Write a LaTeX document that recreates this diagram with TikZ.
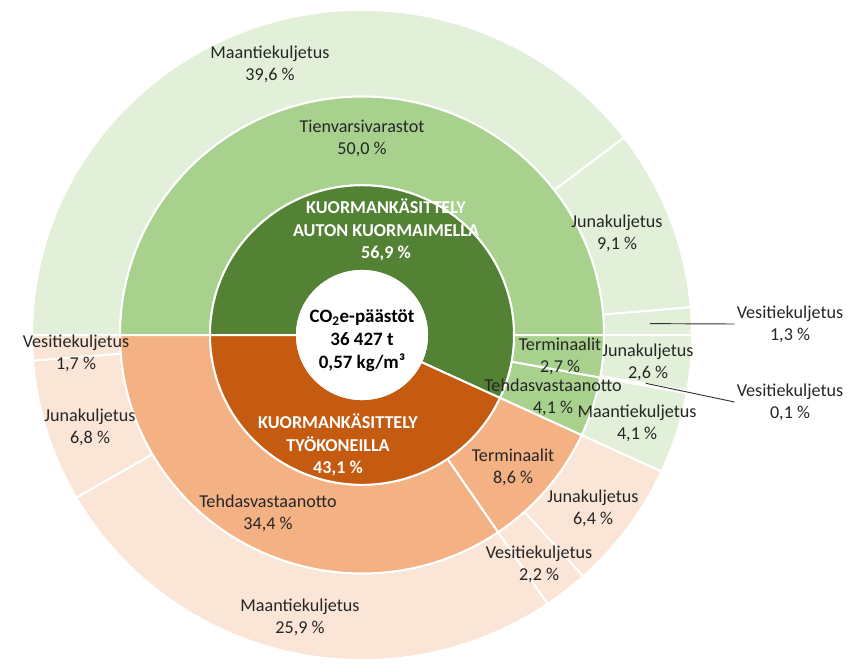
\documentclass[tikz,border=0pt]{standalone}
\usepackage{fontspec}
\setmainfont{Carlito}
\definecolor{dgreen}{HTML}{548235}
\definecolor{mgreen}{HTML}{A9D18E}
\definecolor{lgreen}{HTML}{E2F0D9}
\definecolor{dorange}{HTML}{C55A11}
\definecolor{morange}{HTML}{F4B183}
\definecolor{lorange}{HTML}{FBE5D6}
\newcommand{\ringseg}[5]{\filldraw[seg,fill=#5] (#1:#3) arc[start angle=#1,end angle=#2,radius=#3] -- (#2:#4) arc[start angle=#2,end angle=#1,radius=#4] -- cycle;}
\tikzset{
  seg/.style={draw=white,line width=1.5pt,line join=round},
  lbl/.style={align=center,inner sep=1.5pt,font=\fontsize{13.6}{16.6}\selectfont,text=black!85},
  inlbl/.style={align=center,inner sep=1.5pt,font=\fontsize{13.6}{16.8}\selectfont\bfseries,text=white},
  ctrlbl/.style={align=center,inner sep=1.5pt,font=\fontsize{14.2}{17.2}\selectfont\bfseries,text=black},
  leader/.style={draw=black!80,line width=0.7pt}
}
\begin{document}
\begin{tikzpicture}[x=0.75pt,y=-0.75pt]
\useasboundingbox (0,0) rectangle (856,664);
\begin{scope}[shift={(362,335)},x=0.75pt,y=0.739pt]
  % outer ring
  \ringseg{37.4}{180}{242}{330}{lgreen}
  \ringseg{4.9}{37.4}{242}{330}{lgreen}
  \ringseg{0}{4.9}{242}{330}{lgreen}
  \ringseg{-9.9}{0}{242}{330}{lgreen}
  \ringseg{-10.3}{-9.9}{242}{330}{lgreen}
  \ringseg{-24.84}{-10.3}{242}{330}{lgreen}
  \ringseg{-47.9}{-24.84}{242}{330}{lorange}
  \ringseg{-55.8}{-47.9}{242}{330}{lorange}
  \ringseg{-150}{-55.8}{242}{330}{lorange}
  \ringseg{-175.5}{-150}{242}{330}{lorange}
  \ringseg{-180}{-175.5}{242}{330}{lorange}
  % middle ring
  \ringseg{0}{180}{152}{242}{mgreen}
  \ringseg{-10.3}{0}{152}{242}{mgreen}
  \ringseg{-24.84}{-10.3}{152}{242}{mgreen}
  \ringseg{-55.8}{-24.84}{152}{242}{morange}
  \ringseg{-180}{-55.8}{152}{242}{morange}
  % inner ring
  \ringseg{-24.84}{180}{65}{152}{dgreen}
  \ringseg{-180}{-24.84}{65}{152}{dorange}
  % centre
  \filldraw[seg,fill=white] (0,0) circle[radius=65];
  \coordinate (p13) at (2.3:288);
  \coordinate (p01) at (-9.8:288);
\end{scope}
% centre and inner labels
\node[ctrlbl] (ctr) at (362,341) {CO\textsubscript{2}e-päästöt\\36 427 t\\0,57 kg/m³};
\node[inlbl] (ing) at (386,230) {KUORMANKÄSITTELY\\AUTON KUORMAIMELLA\\56,9 \%};
\node[inlbl] (ino) at (338,445) {KUORMANKÄSITTELY\\TYÖKONEILLA\\43,1 \%};
% middle ring labels
\node[lbl] (mtien) at (362,138) {Tienvarsivarastot\\50,0 \%};
\node[lbl] (mterg) at (560,356) {Terminaalit\\2,7 \%};
\node[lbl] (mtehg) at (553,397) {Tehdasvastaanotto\\4,1 \%};
\node[lbl] (mtero) at (513,467) {Terminaalit\\8,6 \%};
\node[lbl] (mteho) at (268,513) {Tehdasvastaanotto\\34,4 \%};
% outer ring labels
\node[lbl] (omaa1) at (270,64.5) {Maantiekuljetus\\39,6 \%};
\node[lbl] (ojun1) at (617,233) {Junakuljetus\\9,1 \%};
\node[lbl] (ojun2) at (648,362) {Junakuljetus\\2,6 \%};
\node[lbl] (omaa2) at (637,423.5) {Maantiekuljetus\\4,1 \%};
\node[lbl] (ojun3) at (593,508) {Junakuljetus\\6,4 \%};
\node[lbl] (oves3) at (539,564) {Vesitiekuljetus\\2,2 \%};
\node[lbl] (omaa3) at (300,617) {Maantiekuljetus\\25,9 \%};
\node[lbl] (ojun4) at (90,427.5) {Junakuljetus\\6,8 \%};
\node[lbl] (oves4) at (76,353) {Vesitiekuljetus\\1,7 \%};
% outside labels with leaders
\node[lbl] (oves1) at (790,324) {Vesitiekuljetus\\1,3 \%};
\node[lbl] (oves2) at (790,402) {Vesitiekuljetus\\0,1 \%};
\draw[leader] (p13) -- (oves1.west);
\draw[leader] (p01) -- (oves2.west);
\end{tikzpicture}
\end{document}
